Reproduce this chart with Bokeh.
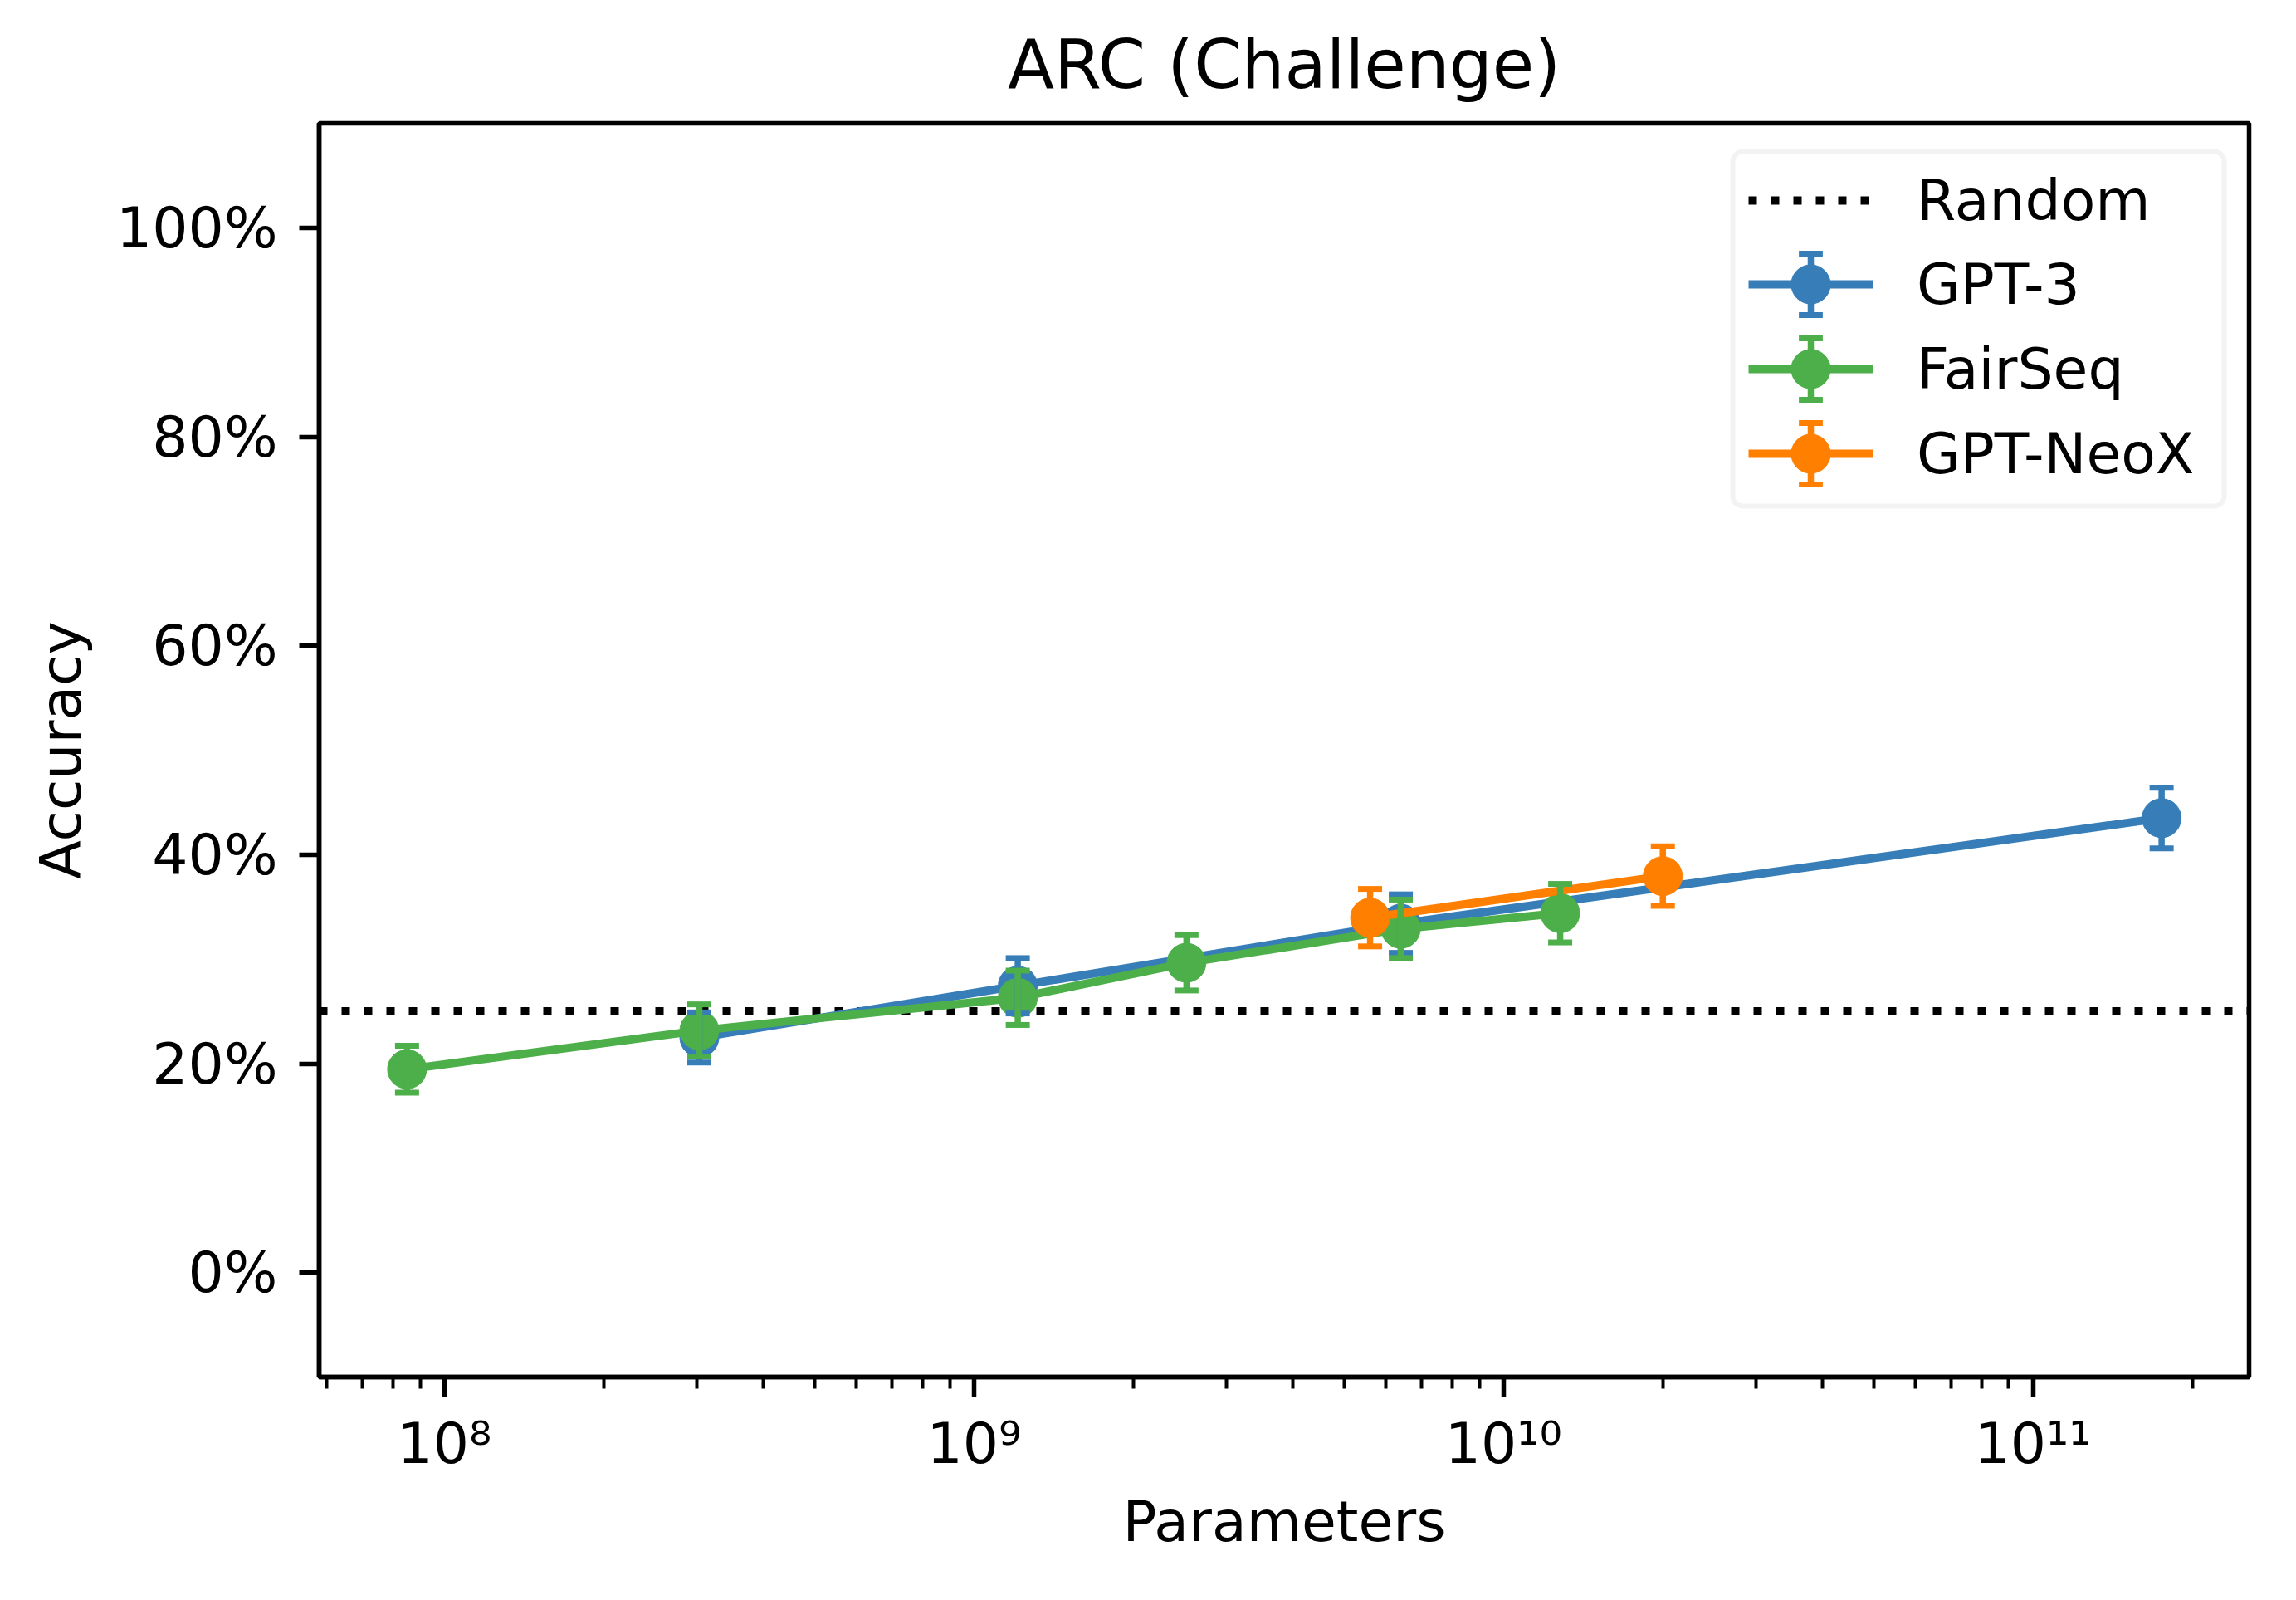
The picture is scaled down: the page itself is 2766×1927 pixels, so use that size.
import math
from bokeh.plotting import figure
from bokeh.models import (ColumnDataSource, Whisker, TeeHead, Legend, LegendItem,
                          FixedTicker, Range1d, BoxAnnotation)
from bokeh.embed import file_html
from bokeh.resources import INLINE

# ---------------- data ----------------
TITLE = "ARC (Challenge)"
X_LABEL = "Parameters"
Y_LABEL = "Accuracy"

GPT3_PARAMS = [3.03e8, 1.21e9, 6.4e9, 1.75e11]
GPT3_ACC = [0.2250, 0.2745, 0.3340, 0.4350]
GPT3_ERR = [0.0240, 0.0265, 0.0280, 0.0290]

FAIRSEQ_PARAMS = [8.5e7, 3.03e8, 1.21e9, 2.52e9, 6.4e9, 1.28e10]
FAIRSEQ_ACC = [0.1946, 0.2317, 0.2630, 0.2965, 0.3290, 0.3440]
FAIRSEQ_ERR = [0.0225, 0.0250, 0.0260, 0.0265, 0.0280, 0.0280]

NEOX_PARAMS = [5.6e9, 2.0e10]
NEOX_ACC = [0.3397, 0.3795]
NEOX_ERR = [0.0275, 0.0285]

RANDOM_ACC = 0.25

X_MIN, X_MAX = 5.80e7, 2.56e11
Y_MIN, Y_MAX = -0.10, 1.10

X_TICKS = [1e8, 1e9, 1e10, 1e11]
X_TICK_LABELS = ["10\u2078", "10\u2079", "10\u00b9\u2070", "10\u00b9\u00b9"]
Y_TICKS = [0.0, 0.2, 0.4, 0.6, 0.8, 1.0]
Y_TICK_LABELS = ["0%", "20%", "40%", "60%", "80%", "100%"]

SERIES = [
    ("GPT-3", GPT3_PARAMS, GPT3_ACC, GPT3_ERR, "#377eb8"),
    ("FairSeq", FAIRSEQ_PARAMS, FAIRSEQ_ACC, FAIRSEQ_ERR, "#4daf4a"),
    ("GPT-NeoX", NEOX_PARAMS, NEOX_ACC, NEOX_ERR, "#ff7f00"),
]

# ---------------- layout ----------------
FONT = "DejaVu Sans"
W, H = 2750, 1911
BORDER_L, BORDER_R, BORDER_T, BORDER_B = 384, 41, 148, 253
FW = W - BORDER_L - BORDER_R
FH = H - BORDER_T - BORDER_B

p = figure(width=W, height=H, x_axis_type="log",
           x_range=Range1d(X_MIN, X_MAX), y_range=Range1d(Y_MIN, Y_MAX),
           output_backend="svg", toolbar_location=None,
           min_border_left=BORDER_L, min_border_right=BORDER_R,
           min_border_top=BORDER_T, min_border_bottom=BORDER_B)
p.title.text = TITLE
p.title.text_font = FONT
p.title.text_font_size = "82px"
p.title.text_font_style = "normal"
p.title.text_color = "black"
p.title.align = "center"
p.title.standoff = 48

p.grid.visible = False
p.outline_line_color = "black"
p.outline_line_width = 5.5
p.background_fill_color = "white"
p.border_fill_color = "white"

minor = []
for k in range(7, 12):
    for m in range(2, 10):
        v = m * 10 ** k
        if X_MIN <= v <= X_MAX:
            minor.append(v)
p.xaxis.ticker = FixedTicker(ticks=X_TICKS, minor_ticks=minor)
p.xaxis.major_label_overrides = {t: l for t, l in zip(X_TICKS, X_TICK_LABELS)}
p.yaxis.ticker = FixedTicker(ticks=Y_TICKS, minor_ticks=[])
p.yaxis.major_label_overrides = {t: l for t, l in zip(Y_TICKS, Y_TICK_LABELS)}

for ax in (p.xaxis[0], p.yaxis[0]):
    ax.axis_line_width = 5.5
    ax.axis_line_color = "black"
    ax.major_tick_line_width = 5.5
    ax.major_tick_out = 24
    ax.major_tick_in = 0
    ax.minor_tick_line_width = 4
    ax.minor_tick_out = 14
    ax.minor_tick_in = 0
    ax.major_label_text_font = FONT
    ax.major_label_text_font_size = "68px"
    ax.major_label_text_color = "black"
    ax.axis_label_text_font = FONT
    ax.axis_label_text_font_size = "68px"
    ax.axis_label_text_font_style = "normal"
    ax.axis_label_text_color = "black"

p.yaxis.minor_tick_line_color = None
p.xaxis.axis_label = X_LABEL
p.yaxis.axis_label = Y_LABEL
p.xaxis.major_label_standoff = 16
p.yaxis.major_label_standoff = 26
p.xaxis.axis_label_standoff = 12
p.yaxis.axis_label_standoff = 24

# random-chance baseline across the whole x range
rand = p.line(x=[X_MIN, X_MAX], y=[RANDOM_ACC, RANDOM_ACC], line_color="black",
              line_width=10, line_dash="10 17", line_cap="butt")

items = [LegendItem(label="Random", renderers=[rand])]
bar_items = []   # (bar renderer, cap renderer) per series, used only for legend glyphs

for name, xs, ys, es, col in SERIES:
    src = ColumnDataSource(dict(x=xs, y=ys,
                                lo=[y - e for y, e in zip(ys, es)],
                                hi=[y + e for y, e in zip(ys, es)]))
    ln = p.line("x", "y", source=src, line_color=col, line_width=10)
    wh = Whisker(base="x", upper="hi", lower="lo", source=src, dimension="height",
                 line_color=col, line_width=7.5,
                 upper_head=TeeHead(size=29, line_color=col, line_width=7),
                 lower_head=TeeHead(size=29, line_color=col, line_width=7),
                 level="glyph")
    p.add_layout(wh)
    # hidden glyphs, only used to draw the error-bar symbol in the legend
    bar = p.scatter("x", "y", source=src, marker="cross", line_color=col,
                    line_width=7.5, size=75, visible=False)
    cap = p.scatter("x", "y", source=src, marker="dash", line_color=col,
                    line_width=7, size=29, visible=False)
    bar_items.append((bar, cap))
    sc = p.scatter("x", "y", source=src, size=47, fill_color=col, line_color=col,
                   line_width=1)
    items.append(LegendItem(label=name, renderers=[ln, sc]))

# legend frame (frame-pixel offsets converted through the plot ranges)
LEG_LEFT, LEG_RIGHT, LEG_TOP, LEG_BOTTOM = 1703, 2295, 34, 461
lx0, lx1 = math.log10(X_MIN), math.log10(X_MAX)
def px_to_x(px):
    return 10 ** (lx0 + px / FW * (lx1 - lx0))
def py_to_y(py):
    return Y_MAX - py / FH * (Y_MAX - Y_MIN)
box = BoxAnnotation(left=px_to_x(LEG_LEFT), right=px_to_x(LEG_RIGHT),
                    top=py_to_y(LEG_TOP), bottom=py_to_y(LEG_BOTTOM),
                    fill_color="white", fill_alpha=0.8,
                    line_color="#d6d6d6", line_width=6, border_radius=12,
                    level="annotation")
p.add_layout(box)

ROW_CENTERS = [91, 192, 294, 396]   # offsets below the frame top
GLYPH_X0 = 1724                     # left edge of the legend glyphs (frame offset)
GLYPH_W = 150
PAD = 2
GX = GLYPH_X0 + GLYPH_W / 2

def block(item, cx, cy, box_size, glyph_w=None, label_size="68px"):
    gw = glyph_w if glyph_w is not None else box_size
    left = cx - gw / 2 - PAD
    bottom = FH - (cy + box_size / 2 + PAD)
    leg = Legend(items=[item], location=(int(round(left)), int(round(bottom))),
                 label_text_font=FONT, label_text_font_size=label_size,
                 label_text_color="black",
                 glyph_width=int(round(gw)), glyph_height=int(round(box_size)),
                 label_height=int(round(box_size)),
                 label_standoff=53, spacing=0, padding=PAD, margin=0,
                 border_line_color=None, background_fill_alpha=0.0)
    p.add_layout(leg, "center")

# error-bar symbols first, so the legend circles sit on top
CAP_OFFSET = 37
for (bar, cap), cy in zip(bar_items, ROW_CENTERS[1:]):
    block(LegendItem(label="", renderers=[bar]), GX, cy, 188, label_size="1px")
    for dy in (-CAP_OFFSET, CAP_OFFSET):
        block(LegendItem(label="", renderers=[cap]), GX, cy + dy, 72.5, label_size="1px")

for item, cy in zip(items, ROW_CENTERS):
    block(item, GX, cy, 118, glyph_w=GLYPH_W)

open("out.html", "w").write(file_html(p, INLINE))
